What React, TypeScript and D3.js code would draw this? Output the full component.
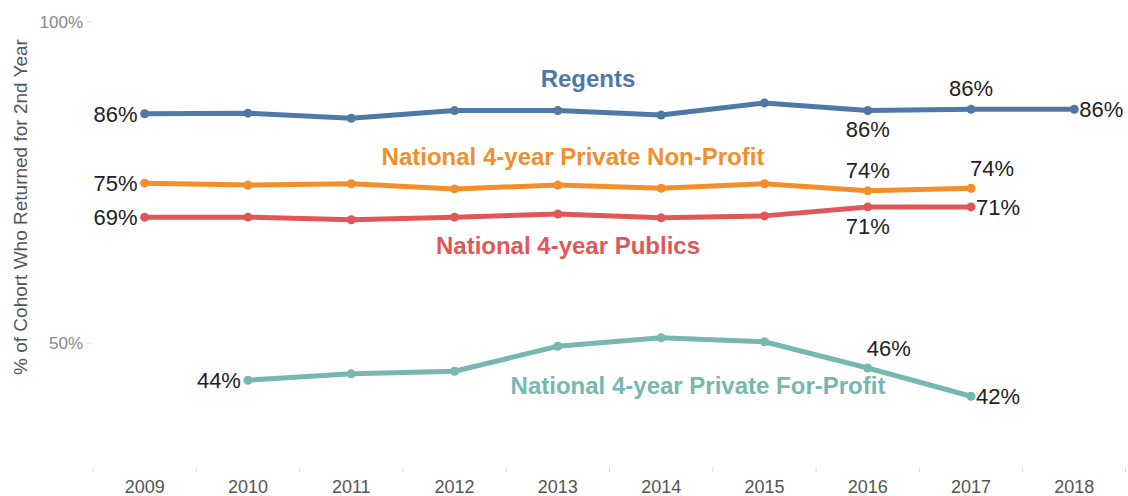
import React from "react";
import * as d3 from "d3";

const years = ["2009", "2010", "2011", "2012", "2013", "2014", "2015", "2016", "2017", "2018"];
const regents = [85.7, 85.8, 85.0, 86.2, 86.2, 85.5, 87.4, 86.2, 86.4, 86.4];
const privateNonProfit = [74.9, 74.6, 74.8, 74.0, 74.6, 74.1, 74.8, 73.7, 74.1, null];
const publics = [69.6, 69.6, 69.2, 69.6, 70.1, 69.5, 69.8, 71.2, 71.2, null];
const privateForProfit = [null, 44.2, 45.2, 45.6, 49.5, 50.8, 50.2, 46.1, 41.7, null];
const yTicks = [50, 100];

const W = 1128, H = 496;

type Series = { name: string; color: string; values: (number | null)[]; nameX: number; nameY: number };
const series: Series[] = [
  { name: "Regents", color: "#4E79A7", values: regents, nameX: 588, nameY: 79 },
  { name: "National 4-year Private Non-Profit", color: "#F28E2B", values: privateNonProfit, nameX: 573, nameY: 157 },
  { name: "National 4-year Publics", color: "#E15759", values: publics, nameX: 568, nameY: 246 },
  { name: "National 4-year Private For-Profit", color: "#76B7B2", values: privateForProfit, nameX: 698, nameY: 386 },
];

// data labels: series index, year index, text, placement
const dataLabels: [number, number, string, string][] = [
  [0, 0, "86%", "left"],
  [0, 7, "86%", "below"],
  [0, 8, "86%", "above"],
  [0, 9, "86%", "right"],
  [1, 0, "75%", "left"],
  [1, 7, "74%", "above"],
  [1, 8, "74%", "aboveRight"],
  [2, 0, "69%", "left"],
  [2, 7, "71%", "below"],
  [2, 8, "71%", "right"],
  [3, 1, "44%", "left"],
  [3, 7, "46%", "aboveRight"],
  [3, 8, "42%", "right"],
];

export default function App() {
  const x = d3.scaleBand<string>().domain(years).range([93, 1126]);
  const y = d3.scaleLinear().domain([50, 100]).range([343, 22]);
  const cx = (i: number) => (x(years[i]) as number) + x.bandwidth() / 2;
  const line = d3
    .line<number | null>()
    .defined((d) => d != null)
    .x((_, i) => cx(i))
    .y((d) => y(d as number));

  const font = "Arial, 'Liberation Sans', sans-serif";

  return (
    <svg width={W} height={H} style={{ position: "absolute", left: 0, top: 0 }} fontFamily={font}>
      {/* y axis title */}
      <text
        transform={`translate(20,207) rotate(-90)`}
        textAnchor="middle"
        dy="0.35em"
        fontSize={19}
        fill="#555"
      >
        % of Cohort Who Returned for 2nd Year
      </text>
      {/* y ticks */}
      {yTicks.map((t) => (
        <g key={t}>
          <line x1={86} x2={92} y1={y(t)} y2={y(t)} stroke="#ddd" />
          <text x={83} y={y(t)} dy="0.35em" textAnchor="end" fontSize={17} fill="#888">
            {t}%
          </text>
        </g>
      ))}
      {/* x ticks */}
      {years.map((yr, i) => (
        <g key={yr}>
          <line x1={x(yr) as number} x2={x(yr) as number} y1={467} y2={472} stroke="#ddd" />
          <text x={cx(i)} y={487} dy="0.35em" textAnchor="middle" fontSize={18} fill="#555">
            {yr}
          </text>
        </g>
      ))}
      <line x1={1125.5} x2={1125.5} y1={467} y2={472} stroke="#ddd" />
      {/* lines */}
      {series.map((s) => (
        <g key={s.name}>
          <path d={line(s.values) || ""} fill="none" stroke={s.color} strokeWidth={5} strokeLinejoin="round" />
          {s.values.map((v, i) =>
            v == null ? null : <circle key={i} cx={cx(i)} cy={y(v)} r={4.5} fill={s.color} />
          )}
          <text x={s.nameX} y={s.nameY} dy="0.35em" textAnchor="middle" fontSize={24} fontWeight="bold" fill={s.color}>
            {s.name}
          </text>
        </g>
      ))}
      {/* data labels */}
      {dataLabels.map(([si, yi, txt, pos], k) => {
        const v = series[si].values[yi] as number;
        const px = cx(yi);
        const py = y(v);
        let tx = px, ty = py, anchor = "middle";
        if (pos === "left") { tx = px - 7; anchor = "end"; }
        else if (pos === "right") { tx = px + 5; anchor = "start"; }
        else if (pos === "above") { ty = py - 21; }
        else if (pos === "below") { ty = py + 19; }
        else if (pos === "aboveRight") { tx = px + 21; ty = py - 20; }
        return (
          <text key={k} x={tx} y={ty} dy="0.35em" textAnchor={anchor} fontSize={22} fill="#222">
            {txt}
          </text>
        );
      })}
    </svg>
  );
}
